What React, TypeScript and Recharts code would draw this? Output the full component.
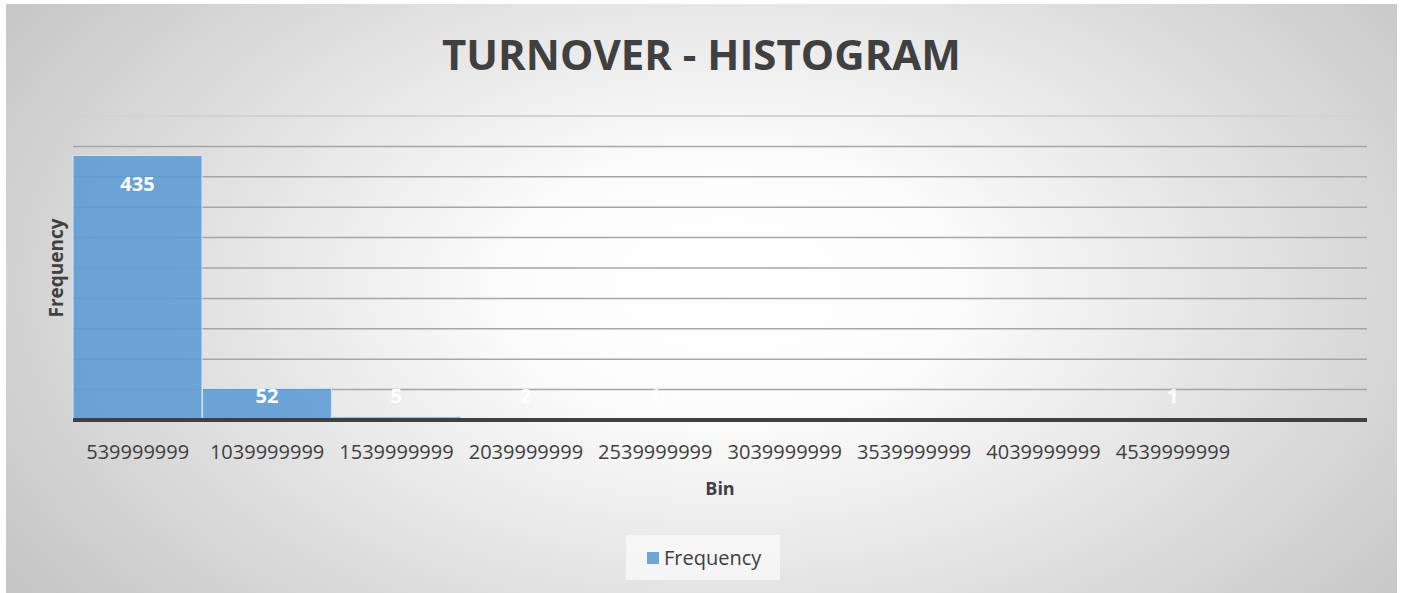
import { BarChart, Bar, XAxis, YAxis, CartesianGrid, LabelList, ReferenceLine } from 'recharts';

// Bin upper bounds as shown in the Excel histogram (last slot is the empty "More" bin)
const bins = ['539999999', '1039999999', '1539999999', '2039999999', '2539999999', '3039999999', '3539999999', '4039999999', '4539999999', ''];
const frequency: (number | null)[] = [435, 52, 5, 2, 1, 0, 0, 0, 1, null];
const gridTicks = [0, 50, 100, 150, 200, 250, 300, 350, 400, 450];
const yMax = 500;

const data = bins.map((bin, i) => ({ bin, frequency: frequency[i] }));

const FONT = '"Open Sans", sans-serif';
const TEXT = '#404040';

// Excel puts the label inside the bar end, but pins it above the axis for short bars
function BarValue(props: any) {
  const { x, y, width, height, value } = props;
  if (value == null) return null;
  const base = y + height;
  const cy = Math.min(y + 28, base - 24);
  return (
    <text
      x={x + width / 2}
      y={cy + 7}
      textAnchor="middle"
      fill="#ffffff"
      fontFamily={FONT}
      fontWeight={700}
      fontSize={20}
    >
      {value}
    </text>
  );
}

const noTick = () => <g />;

export default function App() {
  return (
    <div style={{ position: 'absolute', left: 0, top: 0, width: 1402, height: 593, background: '#fff', overflow: 'hidden' }}>
      <div
        style={{
          position: 'absolute',
          left: 6,
          top: 4,
          width: 1391,
          height: 589,
          background: 'radial-gradient(ellipse 62% 88% at 52% 48%, #ffffff 0%, #fcfcfc 25%, #c6c6c6 100%)',
          fontFamily: FONT,
        }}
      >
        <div
          style={{
            position: 'absolute',
            top: 29,
            left: 0,
            width: '100%',
            textAlign: 'center',
            fontSize: 42,
            lineHeight: 1,
            fontWeight: 700,
            color: TEXT,
          }}
        >
          TURNOVER - HISTOGRAM
        </div>

        <div style={{ position: 'absolute', left: 0, top: 0 }}>
          <BarChart
            width={1391}
            height={589}
            data={data}
            margin={{ top: 112, right: 30, bottom: 83, left: 0 }}
            barCategoryGap={0}
            barGap={0}
          >
            <CartesianGrid vertical={false} stroke="#a6a6a6" strokeWidth={1.5} />
            <ReferenceLine y={yMax} stroke="#dcdcdc" strokeWidth={1.5} />
            <YAxis
              width={67}
              domain={[0, yMax]}
              ticks={gridTicks}
              tick={noTick}
              tickLine={false}
              axisLine={false}
              label={{
                value: 'Frequency',
                angle: -90,
                position: 'center',
                dx: 17,
                fill: TEXT,
                fontFamily: FONT,
                fontWeight: 700,
                fontSize: 19,
              }}
            />
            <XAxis
              dataKey="bin"
              height={90}
              interval={0}
              tickLine={false}
              tickMargin={19}
              axisLine={{ stroke: '#404040', strokeWidth: 4 }}
              tick={{ fill: TEXT, fontFamily: FONT, fontSize: 20 }}
              label={{
                value: 'Bin',
                position: 'insideBottom',
                offset: 15,
                fill: TEXT,
                fontFamily: FONT,
                fontWeight: 700,
                fontSize: 18,
              }}
            />
            <Bar
              dataKey="frequency"
              fill="#5b9bd5"
              fillOpacity={0.88}
              stroke="#d5e5f4"
              strokeWidth={1}
              isAnimationActive={false}
            >
              <LabelList dataKey="frequency" content={BarValue} />
            </Bar>
          </BarChart>
        </div>

        <div
          style={{
            position: 'absolute',
            left: 620,
            top: 531,
            width: 154,
            height: 45,
            background: 'rgba(250,250,250,0.75)',
            display: 'flex',
            alignItems: 'center',
            boxSizing: 'border-box',
            paddingLeft: 21,
          }}
        >
          <span style={{ display: 'inline-block', width: 12, height: 12, background: '#6fa4d6', marginRight: 5 }} />
          <span style={{ fontSize: 20, color: TEXT, lineHeight: 1 }}>Frequency</span>
        </div>
      </div>
    </div>
  );
}
